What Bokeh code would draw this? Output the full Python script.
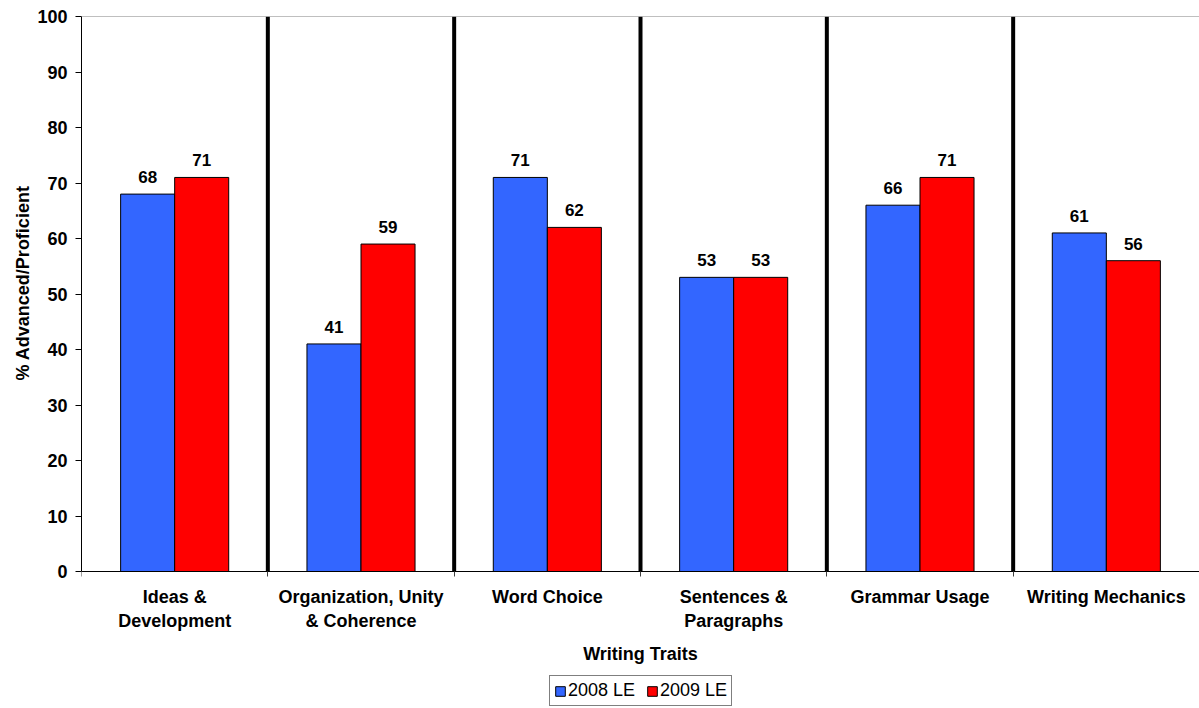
from bokeh.plotting import figure
from bokeh.models import (ColumnDataSource, FixedTicker, Span, Range1d, Legend,
                          LegendItem, Title)
from bokeh.core.properties import value
from bokeh.embed import file_html
from bokeh.resources import INLINE

categories = ["Ideas &\nDevelopment", "Organization, Unity\n& Coherence", "Word Choice",
              "Sentences &\nParagraphs", "Grammar Usage", "Writing Mechanics"]
series_names = ["2008 LE", "2009 LE"]
values_2008 = [68, 41, 71, 53, 66, 61]
values_2009 = [71, 59, 62, 53, 71, 56]
y_ticks = [0, 10, 20, 30, 40, 50, 60, 70, 80, 90, 100]
colors = ["#3366FF", "#FF0000"]

FONT = "Liberation Sans"
n = len(categories)
centers = [i + 0.5 for i in range(n)]
boundaries = list(range(n + 1))
bw = 0.29
y_max = 100
px_per_unit = 5.55          # 555 px for the 0..100 value span
bottom_space_px = 136       # room below the zero line for labels and legend
y_min = -bottom_space_px / px_per_unit

p = figure(width=1199, height=707, output_backend="svg", toolbar_location=None,
           x_range=Range1d(0, n), y_range=Range1d(y_min, y_max),
           min_border_left=81, min_border_right=0, min_border_top=16, min_border_bottom=0)
p.xgrid.visible = False
p.ygrid.visible = False
p.outline_line_color = None
p.background_fill_color = "white"

# separators between categories (only over the value area)
sep_x = boundaries[1:-1]
p.segment(x0=sep_x, y0=[0] * len(sep_x), x1=sep_x, y1=[y_max] * len(sep_x),
          line_color="black", line_width=4)
p.add_layout(Span(location=y_max, dimension="width", line_color="#808080", line_width=1))

renderers = []
for k, vals in enumerate([values_2008, values_2009]):
    off = -bw / 2 if k == 0 else bw / 2
    xs = [c + off for c in centers]
    src = ColumnDataSource(dict(x=xs, top=vals, label=[str(v) for v in vals]))
    r = p.vbar(x="x", top="top", bottom=0, width=bw, source=src,
               fill_color=colors[k], line_color="black", line_width=1)
    renderers.append(r)
    p.text(x="x", y="top", text="label", source=src, text_align="center",
           text_baseline="alphabetic", y_offset=-17,
           text_font=value(FONT), text_font_style="bold", text_font_size="17px",
           text_color="black")

# x axis, fixed at the zero line
xa = p.xaxis[0]
xa.fixed_location = 0
xa.ticker = FixedTicker(ticks=centers, minor_ticks=boundaries)
xa.major_label_overrides = {c: lab for c, lab in zip(centers, categories)}
xa.major_tick_out = 0
xa.major_tick_in = 0
xa.minor_tick_out = 5
xa.minor_tick_in = 0
xa.minor_tick_line_color = "#404040"
xa.axis_line_color = "black"
xa.major_label_text_font = FONT
xa.major_label_text_font_style = "bold"
xa.major_label_text_font_size = "18px"
xa.major_label_text_color = "black"
xa.major_label_text_line_height = 1.2
xa.major_label_standoff = 10
xa.axis_label = "Writing Traits"
xa.axis_label_text_font = FONT
xa.axis_label_text_font_style = "bold"
xa.axis_label_text_font_size = "18px"
xa.axis_label_text_color = "black"
xa.axis_label_standoff = 10

# y axis
ya = p.yaxis[0]
ya.ticker = FixedTicker(ticks=y_ticks)
ya.bounds = (0, y_max)
ya.minor_tick_line_color = None
ya.major_tick_out = 6
ya.major_tick_in = 0
ya.axis_line_color = "black"
ya.major_label_text_font = FONT
ya.major_label_text_font_style = "bold"
ya.major_label_text_font_size = "18px"
ya.major_label_text_color = "black"
ya.major_label_standoff = 8
ya.axis_label = None

ytitle = Title(text="% Advanced/Proficient", align="left", offset=327,
               text_font=FONT, text_font_style="bold", text_font_size="18px",
               text_color="black", standoff=4)
p.add_layout(ytitle, "left")

legend = Legend(items=[LegendItem(label=series_names[i], renderers=[renderers[i]]) for i in range(2)],
                orientation="horizontal", location=(468, 1),
                border_line_color="black", border_line_width=1,
                label_text_font=FONT, label_text_font_size="18px", label_text_color="black",
                glyph_width=12, glyph_height=12, label_height=16,
                label_standoff=2, spacing=11, padding=4, margin=0)
p.add_layout(legend, "center")

open("out.html", "w").write(file_html(p, INLINE))
